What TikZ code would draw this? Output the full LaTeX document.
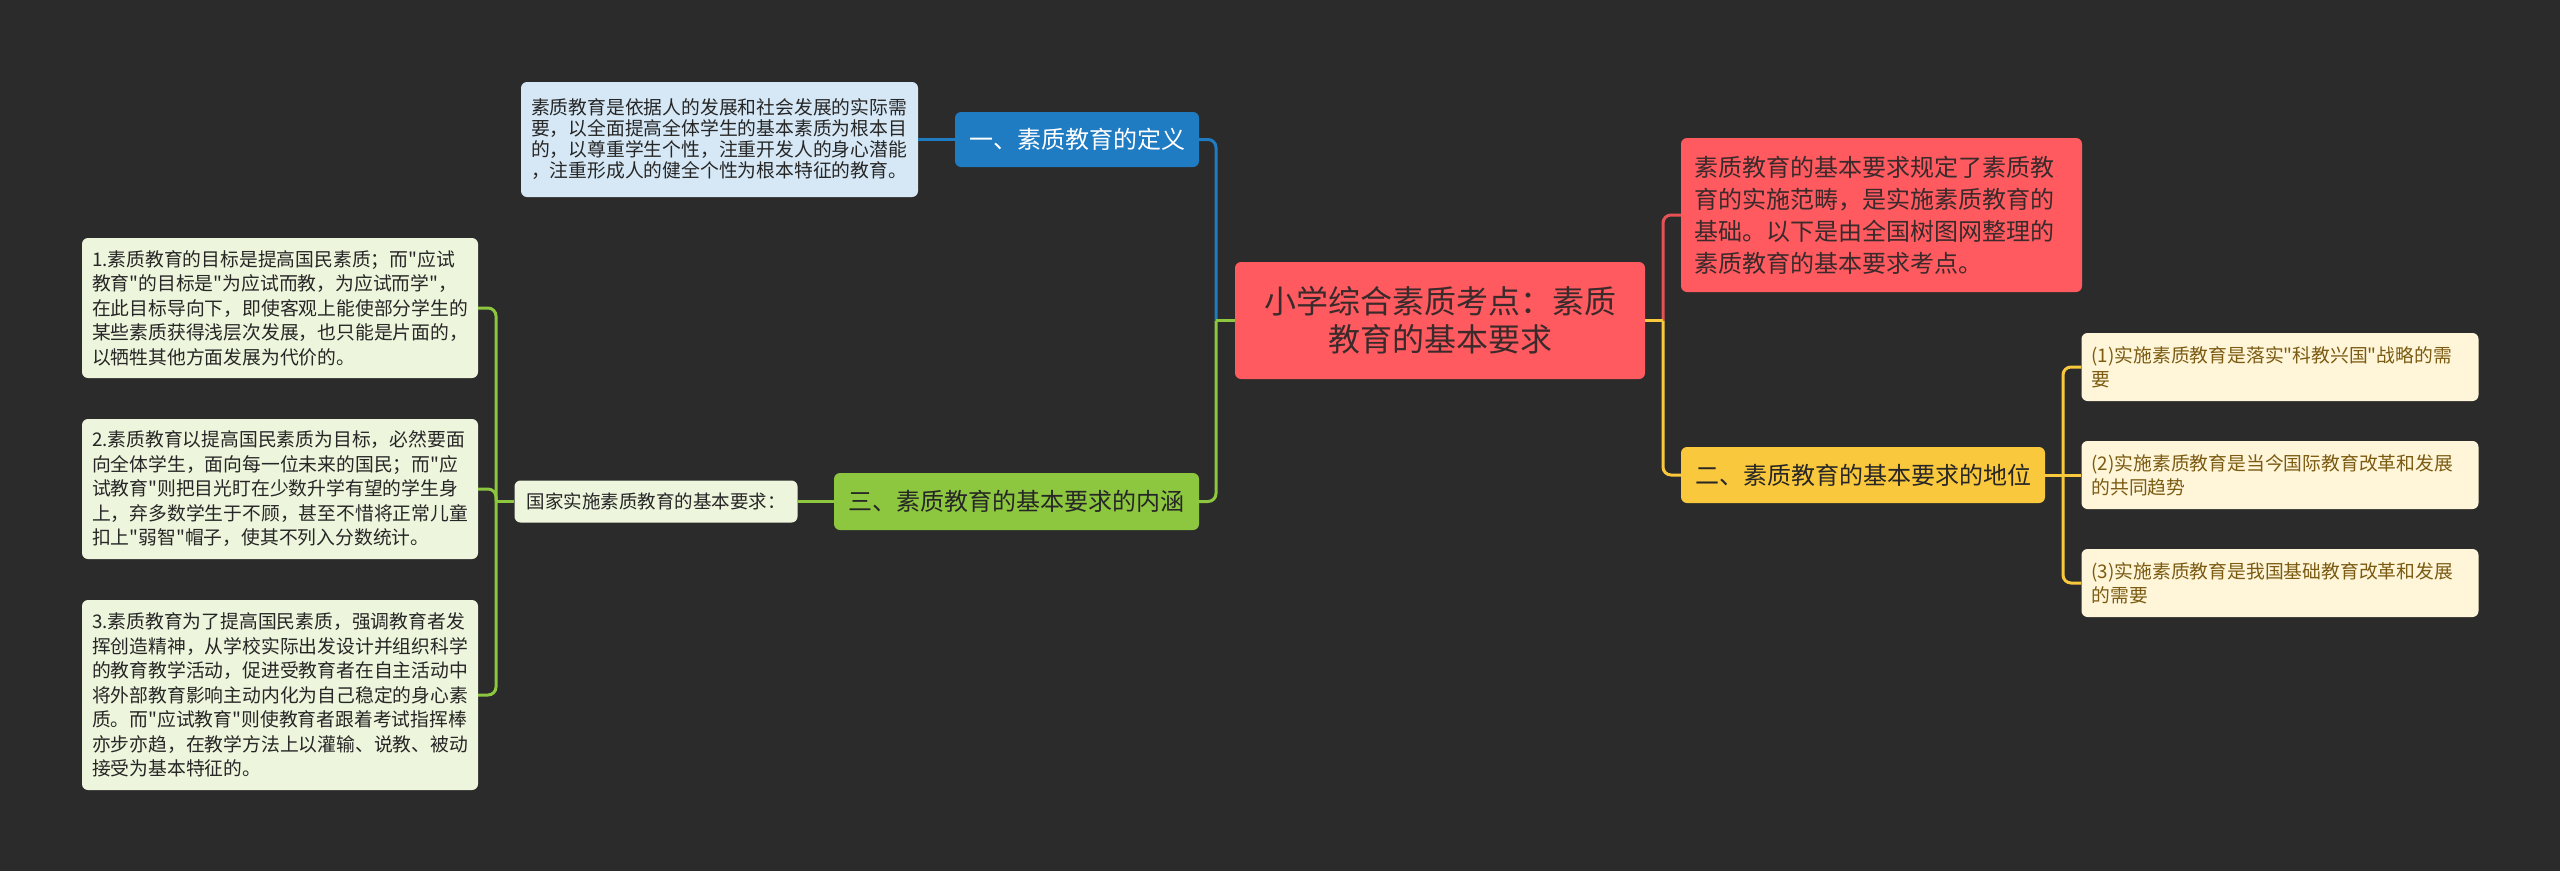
\documentclass[tikz,border=0pt]{standalone}
\usepackage{fontspec}
\newfontfamily\cjk{Noto Sans CJK SC}
\definecolor{bgc}{HTML}{2B2B2B}
\definecolor{rootred}{HTML}{FF5A5F}
\definecolor{rootink}{HTML}{3A2A2B}
\definecolor{defblue}{HTML}{1F7BC2}
\definecolor{notblue}{HTML}{D6E8F6}
\definecolor{posgreen}{HTML}{8DC63F}
\definecolor{notgreen}{HTML}{EDF5DC}
\definecolor{posyel}{HTML}{FAC83C}
\definecolor{notcream}{HTML}{FFF6DA}
\definecolor{notbrown}{HTML}{7B5B12}
\definecolor{inkdark}{HTML}{262626}

\begin{document}
\begin{tikzpicture}[x=1pt,y=-1pt,
  box/.style={rounded corners=6pt,inner sep=0pt},
  rootbox/.style={box,fill=rootred,text=rootink,align=center,
    font=\cjk\fontsize{32}{38}\selectfont},
  topicbox/.style={box,align=center,font=\cjk\fontsize{24}{30}\selectfont},
  notebox/.style={box,align=left,inner xsep=10pt,text=inkdark,
    font=\cjk\fontsize{18.8}{24.5}\selectfont},
  link/.style={line width=3pt,rounded corners=8pt}]
  \fill[bgc] (0,0) rectangle (2560,871);
  \useasboundingbox (0,0) rectangle (2560,871);
  % Root
  \node[rootbox,minimum width=410pt,minimum height=117pt] (root) at (1440,320.5)
    {小学综合素质考点：素质\\教育的基本要求};
  % One: definition
  \node[topicbox,fill=defblue,text=white,minimum width=244pt,minimum height=55pt] (t1) at (1077,139.5) {一、素质教育的定义};
  \node[notebox,fill=notblue,text width=377pt,minimum height=115pt,
    font=\cjk\fontsize{18.8}{21}\selectfont] (defnote) at (719.5,139.5)
    {素质教育是依据人的发展和社会发展的实际需\\
     要，以全面提高全体学生的基本素质为根本目\\
     的，以尊重学生个性，注重开发人的身心潜能\\
     ，注重形成人的健全个性为根本特征的教育。};
  % Summary
  \node[topicbox,fill=rootred,text=rootink,align=left,inner xsep=13pt,text width=375pt,
    minimum height=154pt,font=\cjk\fontsize{24}{32}\selectfont] (sub) at (1881.5,215)
    {素质教育的基本要求规定了素质教\\
     育的实施范畴，是实施素质教育的\\
     基础。以下是由全国树图网整理的\\
     素质教育的基本要求考点。};
  % Two: position
  \node[topicbox,fill=posyel,text=inkdark,minimum width=364pt,minimum height=56pt] (t2) at (1863,475) {二、素质教育的基本要求的地位};
  \node[notebox,fill=notcream,text=notbrown,text width=377pt,minimum height=68pt,
    font=\cjk\fontsize{18.8}{24}\selectfont] (c1) at (2280,367)
    {(1)实施素质教育是落实"科教兴国"战略的需\\要};
  \node[notebox,fill=notcream,text=notbrown,text width=377pt,minimum height=68pt,
    font=\cjk\fontsize{18.8}{24}\selectfont] (c2) at (2280,475)
    {(2)实施素质教育是当今国际教育改革和发展\\的共同趋势};
  \node[notebox,fill=notcream,text=notbrown,text width=377pt,minimum height=68pt,
    font=\cjk\fontsize{18.8}{24}\selectfont] (c3) at (2280,583)
    {(3)实施素质教育是我国基础教育改革和发展\\的需要};
  % Three: content
  \node[topicbox,fill=posgreen,text=inkdark,minimum width=365pt,minimum height=57pt] (t3) at (1016.5,501.5) {三、素质教育的基本要求的内涵};
  \node[notebox,fill=notgreen,align=center,inner xsep=0pt,minimum width=283pt,minimum height=42pt,
    font=\cjk\fontsize{18.5}{22}\selectfont] (gj) at (656,501.5) {国家实施素质教育的基本要求：};
  \node[notebox,fill=notgreen,text width=376pt,minimum height=140pt] (l1) at (280,308)
    {1.素质教育的目标是提高国民素质；而"应试\\
     教育"的目标是"为应试而教，为应试而学"，\\
     在此目标导向下，即使客观上能使部分学生的\\
     某些素质获得浅层次发展，也只能是片面的，\\
     以牺牲其他方面发展为代价的。};
  \node[notebox,fill=notgreen,text width=376pt,minimum height=140pt] (l2) at (280,489)
    {2.素质教育以提高国民素质为目标，必然要面\\
     向全体学生，面向每一位未来的国民；而"应\\
     试教育"则把目光盯在少数升学有望的学生身\\
     上，弃多数学生于不顾，甚至不惜将正常儿童\\
     扣上"弱智"帽子，使其不列入分数统计。};
  \node[notebox,fill=notgreen,text width=376pt,minimum height=190pt] (l3) at (280,695)
    {3.素质教育为了提高国民素质，强调教育者发\\
     挥创造精神，从学校实际出发设计并组织科学\\
     的教育教学活动，促进受教育者在自主活动中\\
     将外部教育影响主动内化为自己稳定的身心素\\
     质。而"应试教育"则使教育者跟着考试指挥棒\\
     亦步亦趋，在教学方法上以灌输、说教、被动\\
     接受为基本特征的。};
  % Junctions
  \coordinate (jL) at (1216,320.5);
  \coordinate (jR) at (1663,320.5);
  \coordinate (jY) at (2063,475);
  \coordinate (jG) at (496,501.5);
  % Links
  \draw[link,defblue] (t1.east) -| (jL);
  \draw[link,posgreen] (t3.east) -| (jL);
  \draw[link,posgreen] (jL) -- (root.west);
  \draw[link,defblue] (t1.west) -- (defnote.east);
  \draw[link,rootred!90!black] (sub.west) -| (jR);
  \draw[link,posyel] (t2.west) -| (jR);
  \draw[link,posyel] (root.east) -- (jR);
  \draw[link,posyel] (t2.east) -- (jY);
  \draw[link,posyel] (c1.west) -| (jY);
  \draw[link,posyel] (c2.west) -- (jY);
  \draw[link,posyel] (c3.west) -| (jY);
  \draw[link,posgreen] (t3.west) -- (gj.east);
  \draw[link,posgreen] (gj.west) -- (jG);
  \draw[link,posgreen] (l1.east) -| (jG);
  \draw[link,posgreen] (l2.east) -| (jG);
  \draw[link,posgreen] (l3.east) -| (jG);
\end{tikzpicture}
\end{document}
